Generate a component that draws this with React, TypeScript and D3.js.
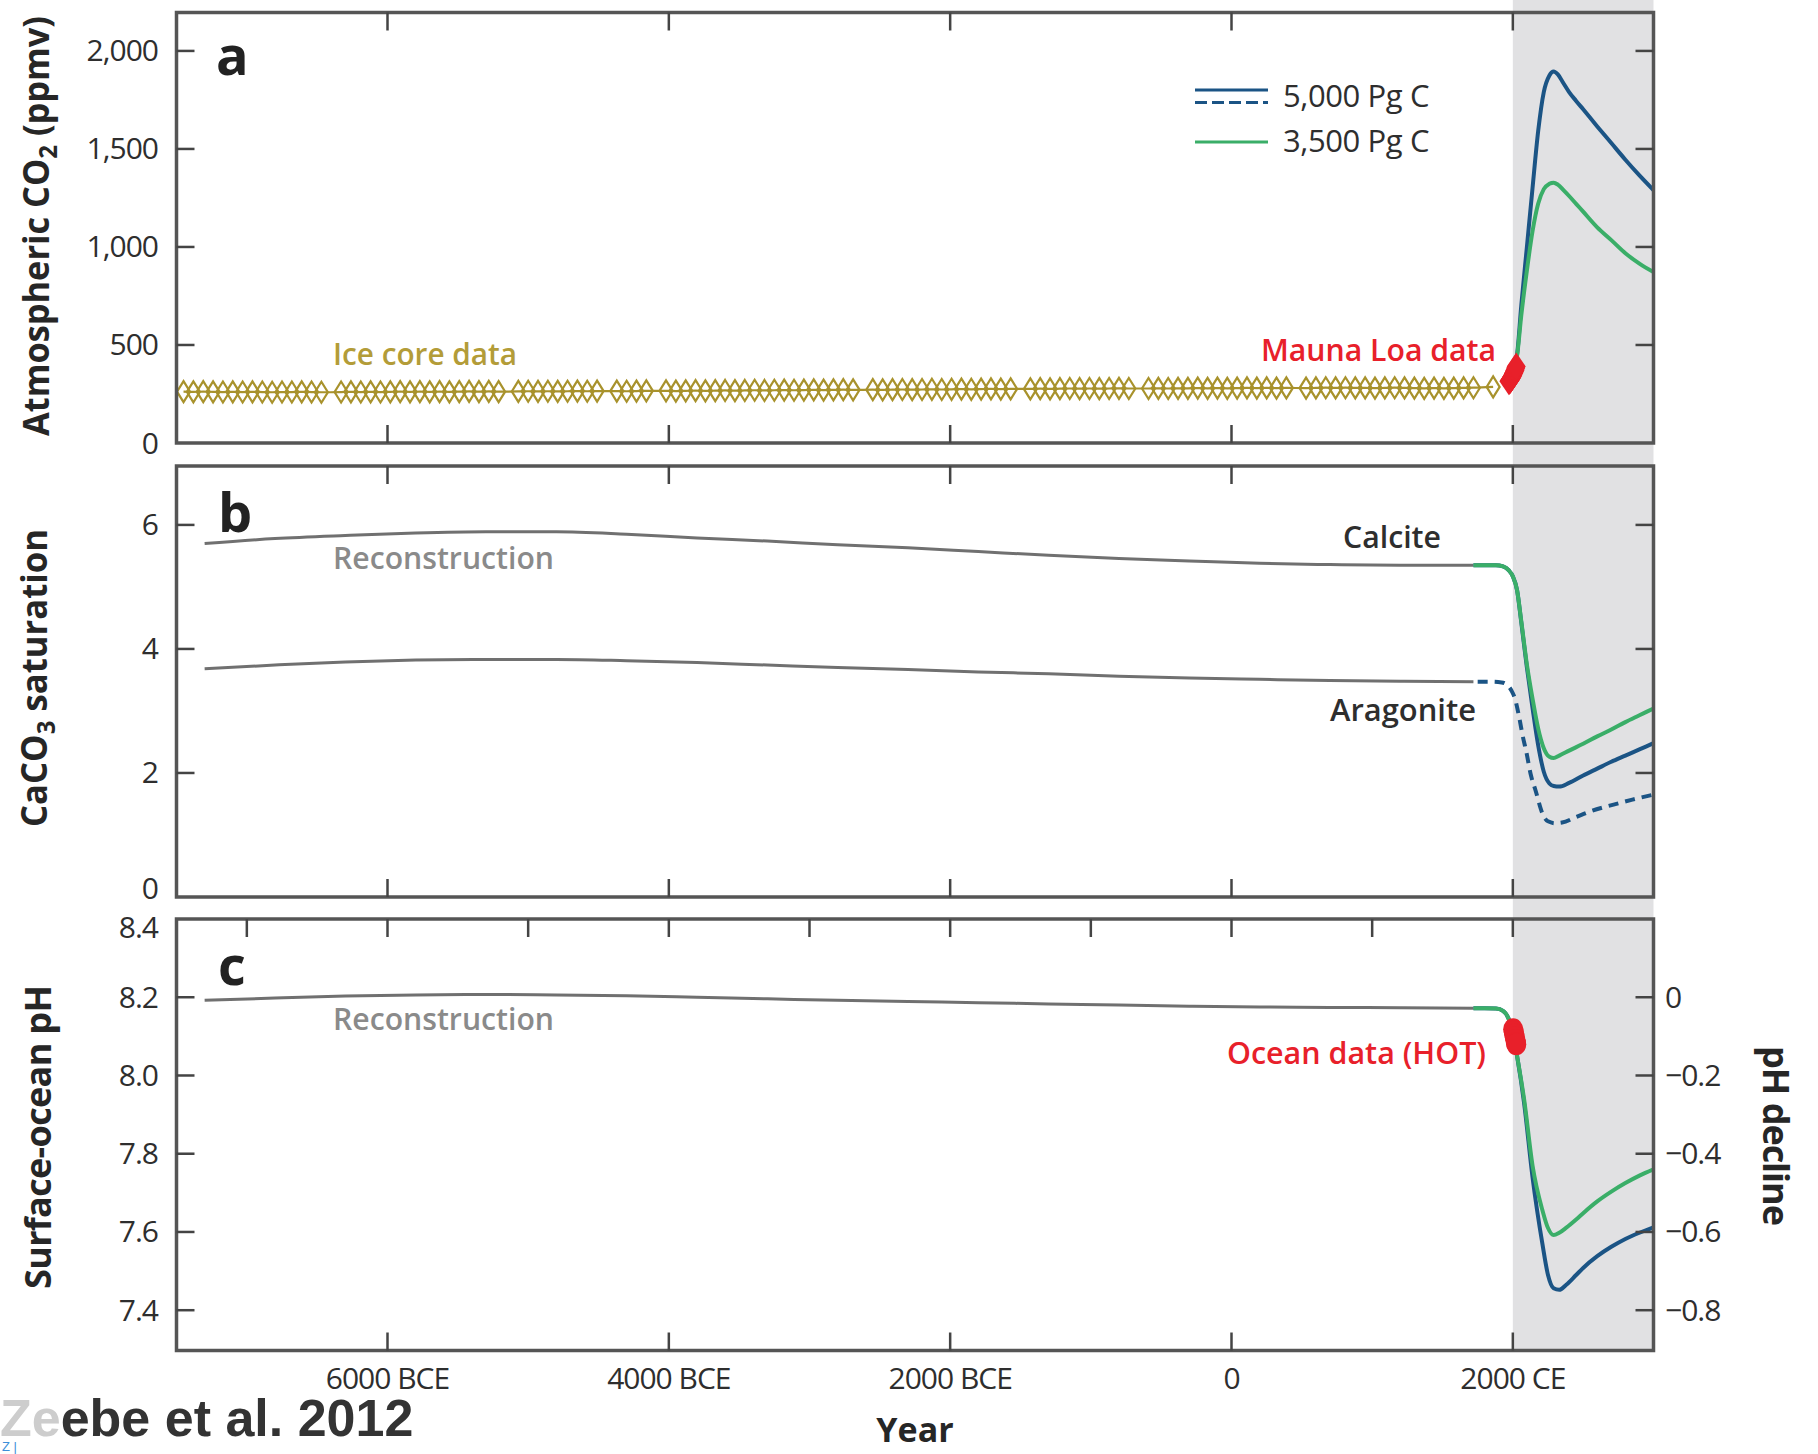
import React from 'react';
import * as d3 from 'd3';

const W = 1818;
const H = 1454;

// ---------- data ----------
const xTickYears = [-6000, -4000, -2000, 0, 2000];
const xTickLabels = ['6000 BCE', '4000 BCE', '2000 BCE', '0', '2000 CE'];
const xMinorYears = [-7000, -6000, -5000, -4000, -3000, -2000, -1000, 0, 1000, 2000];

const co2Ticks = [500, 1000, 1500, 2000];
const co2Labels = ['0', '500', '1,000', '1,500', '2,000'];
const co2LabelVals = [0, 500, 1000, 1500, 2000];

const satTicks = [2, 4, 6];
const satLabelVals = [0, 2, 4, 6];

const phTicks = [7.4, 7.6, 7.8, 8.0, 8.2];
const phLabelVals = [7.4, 7.6, 7.8, 8.0, 8.2, 8.4];
const phLabels = ['7.4', '7.6', '7.8', '8.0', '8.2', '8.4'];
const phDeclineVals = [0, -0.2, -0.4, -0.6, -0.8];
const phDeclineLabels = ['0', '\u22120.2', '\u22120.4', '\u22120.6', '\u22120.8'];

// Ice core CO2 (ppmv)
const iceYears = [
  -7450, -7380, -7310, -7240, -7170, -7100, -7030, -6960, -6890, -6820, -6750, -6680, -6610, -6540, -6470,
  -6330, -6260, -6190, -6120, -6050, -5980, -5910, -5840, -5770, -5700, -5630, -5560, -5490, -5420, -5350, -5280, -5210,
  -5070, -5000, -4930, -4860, -4790, -4720, -4650, -4580, -4510,
  -4370, -4300, -4230, -4160,
  -4020, -3950, -3880, -3810, -3740, -3670, -3600, -3530, -3460, -3390, -3320, -3250, -3180, -3110, -3040, -2970, -2900, -2830, -2760, -2690,
  -2550, -2480, -2410, -2340, -2270, -2200, -2130, -2060, -1990, -1920, -1850, -1780, -1710, -1640, -1570,
  -1430, -1360, -1290, -1220, -1150, -1080, -1010, -940, -870, -800, -730,
  -590, -520, -450, -380, -310, -240, -170, -100, -30, 40, 110, 180, 250, 320, 390,
  530, 600, 670, 740, 810, 880, 950, 1020, 1090, 1160, 1230, 1300, 1370, 1440, 1510, 1580, 1650, 1720,
  1860,
];
const iceCO2 = [
  262, 261, 262, 261, 260, 261, 260, 261, 260, 259, 260, 260, 261, 260, 259,
  260, 261, 260, 261, 260, 261, 262, 261, 262, 261, 262, 261, 262, 263, 262, 263, 262,
  263, 264, 263, 264, 263, 264, 265, 264, 265,
  265, 264, 265, 266,
  266, 265, 266, 267, 266, 267, 268, 267, 268, 269, 268, 269, 270, 269, 270, 271, 270, 271, 272, 271,
  272, 271, 272, 273, 272, 273, 274, 273, 274, 275, 274, 275, 276, 275, 276,
  276, 277, 276, 277, 278, 277, 278, 277, 278, 279, 278,
  278, 279, 278, 279, 279, 280, 279, 280, 279, 280, 281, 280, 281, 280, 281,
  280, 281, 282, 281, 282, 281, 281, 280, 281, 282, 281, 280, 279, 280, 279, 280, 281, 282,
  286,
];

// Mauna Loa CO2
const mlYears = [1958, 1962, 1966, 1970, 1974, 1978, 1982, 1986, 1990, 1994, 1998, 2002, 2006, 2010];
const mlCO2 = [315, 318, 321, 325, 330, 335, 341, 347, 354, 358, 367, 373, 382, 390];

// Future CO2 scenarios
const futYearsA = [1958, 2000, 2030, 2060, 2100, 2140, 2180, 2220, 2260, 2290, 2320, 2360, 2400, 2450, 2500, 2600, 2700, 2800, 2900, 3000];
const co2_5000 = [315, 370, 450, 700, 1000, 1300, 1590, 1790, 1875, 1895, 1880, 1835, 1790, 1745, 1702, 1615, 1530, 1445, 1365, 1290];
const co2_3500 = [315, 370, 445, 650, 880, 1080, 1220, 1295, 1322, 1328, 1318, 1290, 1260, 1220, 1180, 1100, 1035, 968, 915, 872];

// Reconstruction (panels b, c)
const recYears = [-7300, -6800, -6300, -5800, -5300, -4800, -4300, -3800, -3300, -2800, -2300, -1800, -1300, -800, -300, 200, 700, 1200, 1720];
const calciteRec = [5.70, 5.78, 5.83, 5.87, 5.89, 5.89, 5.85, 5.79, 5.74, 5.68, 5.63, 5.57, 5.51, 5.46, 5.42, 5.38, 5.36, 5.35, 5.35];
const aragoniteRec = [3.68, 3.74, 3.79, 3.82, 3.83, 3.83, 3.81, 3.78, 3.74, 3.70, 3.67, 3.63, 3.60, 3.56, 3.53, 3.51, 3.49, 3.48, 3.47];
const phRec = [8.192, 8.198, 8.203, 8.206, 8.207, 8.206, 8.204, 8.200, 8.196, 8.192, 8.189, 8.186, 8.183, 8.180, 8.177, 8.175, 8.174, 8.173, 8.172];

// Future saturation
const futYearsB = [1720, 1800, 1880, 1930, 1970, 2000, 2030, 2060, 2100, 2140, 2180, 2220, 2260, 2290, 2330, 2400, 2500, 2600, 2700, 2800, 2900, 3000];
const calcite_3500 = [5.35, 5.35, 5.35, 5.33, 5.27, 5.17, 4.95, 4.45, 3.75, 3.2, 2.72, 2.4, 2.26, 2.24, 2.28, 2.36, 2.47, 2.59, 2.70, 2.82, 2.93, 3.04];
const calcite_5000 = [5.35, 5.35, 5.35, 5.33, 5.27, 5.17, 4.95, 4.43, 3.7, 3.05, 2.45, 2.02, 1.83, 1.79, 1.78, 1.84, 1.96, 2.07, 2.18, 2.28, 2.38, 2.48];
const futYearsArag = [1750, 1850, 1920, 1960, 1990, 2015, 2045, 2070, 2095, 2130, 2160, 2210, 2250, 2300, 2350, 2450, 2550, 2650, 2750, 2850, 3000];
const aragonite_5000 = [3.47, 3.47, 3.46, 3.42, 3.33, 3.2, 2.9, 2.6, 2.35, 1.95, 1.73, 1.35, 1.22, 1.19, 1.2, 1.29, 1.38, 1.45, 1.51, 1.57, 1.65];

// Future pH
const futYearsC = [1720, 1800, 1880, 1930, 1970, 2000, 2030, 2080, 2140, 2210, 2250, 2290, 2330, 2380, 2450, 2500, 2600, 2700, 2800, 2900, 3000];
const ph_3500 = [8.172, 8.172, 8.171, 8.165, 8.145, 8.11, 8.05, 7.94, 7.77, 7.656, 7.61, 7.592, 7.598, 7.611, 7.632, 7.648, 7.678, 7.703, 7.725, 7.744, 7.76];
const ph_5000 = [8.172, 8.172, 8.171, 8.165, 8.145, 8.11, 8.05, 7.93, 7.74, 7.57, 7.49, 7.456, 7.452, 7.465, 7.49, 7.508, 7.538, 7.562, 7.582, 7.598, 7.612];

// HOT ocean data
const hotYears = [1988, 1992, 1996, 2000, 2004, 2008, 2010];
const hotPH = [8.118, 8.112, 8.105, 8.098, 8.09, 8.083, 8.08];

// ---------- scales ----------
const x = d3.scaleLinear().domain([-7500, 3000]).range([176.5, 1653.5]);
const yA = d3.scaleLinear().domain([0, 2196]).range([443, 12.5]);
const yB = d3.scaleLinear().domain([0, 6.95]).range([897, 466]);
const yC = d3.scaleLinear().domain([7.297, 8.4]).range([1350.5, 919]);

const BLUE = '#1b5485';
const GREEN = '#3aae68';
const GRAY = '#707070';
const RED = '#e8202a';
const OLIVE = '#a8922c';
const FRAME = '#555';
const TXT = '#2e2e2e';

function path(years: number[], vals: number[], y: d3.ScaleLinear<number, number>) {
  return (
    d3
      .line<number>()
      .x((_, i) => x(years[i]))
      .y((d) => y(d))
      .curve(d3.curveMonotoneX)(vals) || ''
  );
}

const X0 = x.range()[0];
const X1 = x.range()[1];
const TICK = 18;
const tickFont = { fontFamily: "'Open Sans', sans-serif", fontSize: 30, fill: TXT, letterSpacing: -1 };
const labelFont = { fontFamily: "'Open Sans', sans-serif", fontSize: 30, fontWeight: 600 as const };
const titleFont = { fontFamily: "'Liberation Sans Narrow', 'Open Sans', sans-serif", fontSize: 36, fontWeight: 700 as const, fill: '#262626' };

function Frame({ y }: { y: d3.ScaleLinear<number, number> }) {
  const [b, t] = y.range();
  return <rect x={X0} y={t} width={X1 - X0} height={b - t} fill="none" stroke={FRAME} strokeWidth={3.5} />;
}

function XTicks({ y, topYears, bottomYears }: { y: d3.ScaleLinear<number, number>; topYears: number[]; bottomYears: number[] }) {
  const [b, t] = y.range();
  return (
    <g stroke="#444" strokeWidth={2.5}>
      {topYears.map((yr) => (
        <line key={'t' + yr} x1={x(yr)} x2={x(yr)} y1={t} y2={t + TICK} />
      ))}
      {bottomYears.map((yr) => (
        <line key={'b' + yr} x1={x(yr)} x2={x(yr)} y1={b} y2={b - TICK} />
      ))}
    </g>
  );
}

function YTicks({ y, vals, left = true, right = true }: { y: d3.ScaleLinear<number, number>; vals: number[]; left?: boolean; right?: boolean }) {
  return (
    <g stroke="#444" strokeWidth={2.5}>
      {left && vals.map((v) => <line key={'l' + v} x1={X0} x2={X0 + TICK} y1={y(v)} y2={y(v)} />)}
      {right && vals.map((v) => <line key={'r' + v} x1={X1} x2={X1 - TICK} y1={y(v)} y2={y(v)} />)}
    </g>
  );
}

function diamond(w: number, h: number) {
  return `M0,${-h / 2}L${w / 2},0L0,${h / 2}L${-w / 2},0Z`;
}

export default function App() {
  return (
    <svg width={W} height={H} style={{ position: 'absolute', left: 0, top: 0, background: '#fff' }}>
      <rect x={0} y={0} width={W} height={H} fill="#fff" />
      {/* shaded future region */}
      <rect x={x(2000)} y={0} width={X1 - x(2000)} height={yC.range()[0]} fill="#e1e1e3" />

      {/* ---------- Panel a ---------- */}
      <path d={path(iceYears, iceCO2, yA)} fill="none" stroke={OLIVE} strokeWidth={2.2} />
      {iceYears.map((yr, i) => (
        <path key={'ice' + i} d={diamond(13, 21)} transform={`translate(${x(yr)},${yA(iceCO2[i])})`} fill="none" stroke={OLIVE} strokeWidth={2.2} />
      ))}
      <path d={path(futYearsA, co2_5000, yA)} fill="none" stroke={BLUE} strokeWidth={4} />
      <path d={path(futYearsA, co2_3500, yA)} fill="none" stroke={GREEN} strokeWidth={4} />
      {mlYears.map((yr, i) => (
        <path key={'ml' + i} d={diamond(19, 28)} transform={`translate(${x(yr) + 2},${yA(mlCO2[i])})`} fill={RED} />
      ))}
      <Frame y={yA} />
      <XTicks y={yA} topYears={xTickYears} bottomYears={xTickYears} />
      <YTicks y={yA} vals={co2Ticks} />
      {co2LabelVals.map((v, i) => (
        <text key={'al' + v} x={158} y={yA(v)} dy="0.35em" textAnchor="end" {...tickFont}>{co2Labels[i]}</text>
      ))}
      <text x={216} y={75} fontFamily="'Open Sans', sans-serif" fontWeight={700} fontSize={54} fill="#222">a</text>
      {/* legend */}
      <line x1={1195} x2={1268} y1={90} y2={90} stroke={BLUE} strokeWidth={3} />
      <line x1={1195} x2={1268} y1={102.5} y2={102.5} stroke={BLUE} strokeWidth={3} strokeDasharray="12,5" />
      <line x1={1195} x2={1268} y1={142} y2={142} stroke={GREEN} strokeWidth={3} />
      <text x={1283} y={96} dy="0.35em" fontFamily="'Open Sans', sans-serif" fontSize={31} letterSpacing={-0.4} fill={TXT}>5,000 Pg C</text>
      <text x={1283} y={141} dy="0.35em" fontFamily="'Open Sans', sans-serif" fontSize={31} letterSpacing={-0.4} fill={TXT}>3,500 Pg C</text>
      <text x={333} y={354} dy="0.35em" {...labelFont} fill="#b39c38" textLength={184} lengthAdjust="spacingAndGlyphs">Ice core data</text>
      <text x={1261} y={350} dy="0.35em" {...labelFont} fill={RED} textLength={235} lengthAdjust="spacingAndGlyphs">Mauna Loa data</text>
      <text transform="translate(49,226) rotate(-90)" textAnchor="middle" {...titleFont} textLength={420} lengthAdjust="spacingAndGlyphs">
        Atmospheric CO<tspan fontSize={25} dy={8}>2</tspan><tspan dy={-8}> (ppmv)</tspan>
      </text>

      {/* ---------- Panel b ---------- */}
      <path d={path(recYears, calciteRec, yB)} fill="none" stroke={GRAY} strokeWidth={3} />
      <path d={path(recYears, aragoniteRec, yB)} fill="none" stroke={GRAY} strokeWidth={3} />
      <path d={path(futYearsArag, aragonite_5000, yB)} fill="none" stroke={BLUE} strokeWidth={4} strokeDasharray="10,7" />
      <path d={path(futYearsB, calcite_5000, yB)} fill="none" stroke={BLUE} strokeWidth={4} />
      <path d={path(futYearsB, calcite_3500, yB)} fill="none" stroke={GREEN} strokeWidth={4} />
      <Frame y={yB} />
      <XTicks y={yB} topYears={xTickYears} bottomYears={xTickYears} />
      <YTicks y={yB} vals={satTicks} />
      {satLabelVals.map((v) => (
        <text key={'bl' + v} x={158} y={yB(v) - (v === 0 ? 9 : 0)} dy="0.35em" textAnchor="end" {...tickFont}>{String(v)}</text>
      ))}
      <text x={218} y={532} fontFamily="'Open Sans', sans-serif" fontWeight={700} fontSize={54} fill="#222">b</text>
      <text x={333} y={558} dy="0.35em" {...labelFont} fill="#8a8a8a" textLength={221} lengthAdjust="spacingAndGlyphs">Reconstruction</text>
      <text x={1343} y={537} dy="0.35em" {...labelFont} fill={TXT} textLength={98} lengthAdjust="spacingAndGlyphs">Calcite</text>
      <text x={1330} y={710} dy="0.35em" {...labelFont} fill={TXT} textLength={146} lengthAdjust="spacingAndGlyphs">Aragonite</text>
      <text transform="translate(47,678) rotate(-90)" textAnchor="middle" {...titleFont} textLength={298} lengthAdjust="spacingAndGlyphs">
        CaCO<tspan fontSize={25} dy={8}>3</tspan><tspan dy={-8}> saturation</tspan>
      </text>

      {/* ---------- Panel c ---------- */}
      <path d={path(recYears, phRec, yC)} fill="none" stroke={GRAY} strokeWidth={3} />
      <path d={path(futYearsC, ph_5000, yC)} fill="none" stroke={BLUE} strokeWidth={4} />
      <path d={path(futYearsC, ph_3500, yC)} fill="none" stroke={GREEN} strokeWidth={4} />
      {hotYears.map((yr, i) => (
        <ellipse key={'hot' + i} cx={x(yr) + 2} cy={yC(hotPH[i])} rx={10} ry={11} fill={RED} />
      ))}
      <Frame y={yC} />
      <XTicks y={yC} topYears={xMinorYears} bottomYears={xTickYears} />
      <YTicks y={yC} vals={phTicks} right={false} />
      <YTicks y={yC} vals={phDeclineVals.map((d) => 8.2 + d)} left={false} />
      {phLabelVals.map((v, i) => (
        <text key={'cl' + v} x={158} y={yC(v) + (v === 8.4 ? 8 : 0)} dy="0.35em" textAnchor="end" {...tickFont}>{phLabels[i]}</text>
      ))}
      {phDeclineVals.map((d, i) => (
        <text key={'cr' + i} x={1665} y={yC(8.2 + d)} dy="0.35em" textAnchor="start" {...tickFont}>{phDeclineLabels[i]}</text>
      ))}
      <text x={218} y={985} fontFamily="'Open Sans', sans-serif" fontWeight={700} fontSize={54} fill="#222">c</text>
      <text x={333} y={1019} dy="0.35em" {...labelFont} fill="#8a8a8a" textLength={221} lengthAdjust="spacingAndGlyphs">Reconstruction</text>
      <text x={1227} y={1053} dy="0.35em" {...labelFont} fill={RED} textLength={259} lengthAdjust="spacingAndGlyphs">Ocean data (HOT)</text>
      <text transform="translate(51,1137) rotate(-90)" textAnchor="middle" {...titleFont} textLength={304}>Surface-ocean pH</text>
      <text transform="translate(1763,1136) rotate(90)" textAnchor="middle" {...titleFont} textLength={180}>pH decline</text>

      {/* x axis labels */}
      {xTickYears.map((yr, i) => (
        <text key={'xl' + yr} x={x(yr)} y={1378} dy="0.35em" textAnchor="middle" {...tickFont}>{xTickLabels[i]}</text>
      ))}
      <text x={915} y={1430} dy="0.35em" textAnchor="middle" fontFamily="'Open Sans', sans-serif" fontWeight={700} fontSize={34} fill="#262626">Year</text>

      {/* footer */}
      <text x={0} y={1436} fontFamily="'Liberation Sans', Arial, sans-serif" fontWeight={700} fontSize={52}>
        <tspan fill="#cdcdcd">Ze</tspan><tspan fill="#333">ebe et al. 2012</tspan>
      </text>
      <text x={2} y={1451} fontFamily="'Liberation Sans', Arial, sans-serif" fontSize={13} fill="#3d8fd9">Z |</text>
    </svg>
  );
}
